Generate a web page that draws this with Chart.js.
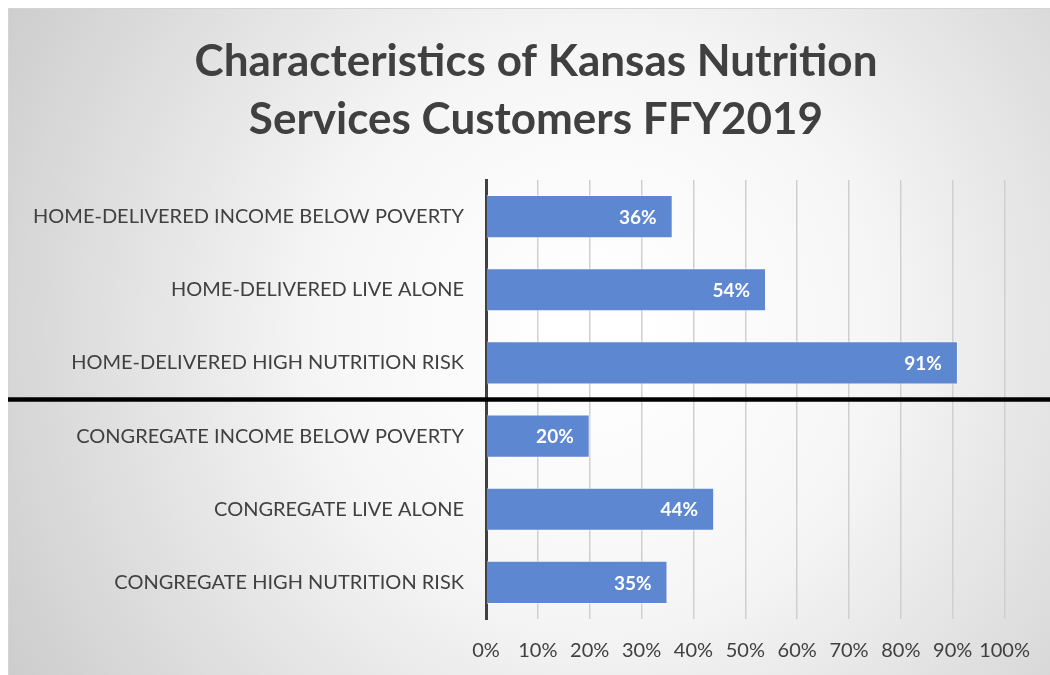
<!DOCTYPE html>
<html>
<head>
<meta charset="utf-8">
<script src="https://cdn.jsdelivr.net/npm/chart.js@4"></script>
<style>
  html, body { margin: 0; padding: 0; background: #fff; }
  #wrap { width: 1050px; height: 675px; position: relative; }
</style>
</head>
<body>
<div id="wrap"><canvas id="chart" width="1050" height="675"></canvas></div>
<script>
// Chart data
const categories = [
    'HOME-DELIVERED INCOME BELOW POVERTY',
    'HOME-DELIVERED LIVE ALONE',
    'HOME-DELIVERED HIGH NUTRITION RISK',
    'CONGREGATE INCOME BELOW POVERTY',
    'CONGREGATE LIVE ALONE',
    'CONGREGATE HIGH NUTRITION RISK'
];
const percentValues = [36, 54, 91, 20, 44, 35];
const titleLines = ['Characteristics of Kansas Nutrition', 'Services Customers FFY2019'];
const tickStep = 10;
const tickMax = 100;

const fontFamily = 'Lato, "Open Sans", sans-serif';

// Background: light radial gradient with thin frame
const backgroundPlugin = {
    id: 'bgGradient',
    beforeDraw(chart) {
        const c = chart.ctx;
        const w = chart.width, h = chart.height;
        c.save();
        const g = c.createRadialGradient(600, 330, 40, 600, 330, 720);
        g.addColorStop(0, '#ffffff');
        g.addColorStop(0.35, '#f6f6f6');
        g.addColorStop(1, '#c9c9c9');
        c.fillStyle = g;
        c.fillRect(8, 8, w - 8, h - 8);
        c.strokeStyle = '#d4d4d4';
        c.lineWidth = 1;
        c.strokeRect(8.5, 8.5, w, h);
        c.restore();
    }
};

// Two-line title, centred over the plot like the original
const titlePlugin = {
    id: 'chartTitle',
    afterDraw(chart) {
        const c = chart.ctx;
        c.save();
        c.font = 'bold 44px ' + fontFamily;
        c.fillStyle = '#404040';
        c.textAlign = 'center';
        c.textBaseline = 'middle';
        c.fillText(titleLines[0], 536, 62);
        c.fillText(titleLines[1], 536, 120);
        c.restore();
    }
};

// White value labels inside the end of each bar
const valueLabelPlugin = {
    id: 'valueLabels',
    afterDatasetsDraw(chart) {
        const c = chart.ctx;
        const meta = chart.getDatasetMeta(0);
        c.save();
        c.font = 'bold 19px ' + fontFamily;
        c.fillStyle = '#ffffff';
        c.textAlign = 'right';
        c.textBaseline = 'middle';
        meta.data.forEach((bar, i) => {
            c.fillText(percentValues[i] + '%', bar.x - 16, bar.y + 1);
        });
        c.restore();
    }
};

// Thick separator between home-delivered and congregate groups
const separatorPlugin = {
    id: 'separator',
    afterDraw(chart) {
        const y = chart.scales.y;
        const mid = (y.getPixelForValue(2) + y.getPixelForValue(3)) / 2;
        const c = chart.ctx;
        c.save();
        c.strokeStyle = '#000000';
        c.lineWidth = 4.5;
        c.beginPath();
        c.moveTo(8, mid);
        c.lineTo(chart.width, mid);
        c.stroke();
        c.restore();
    }
};

new Chart(document.getElementById('chart').getContext('2d'), {
    type: 'bar',
    data: {
        labels: categories,
        datasets: [{
            data: percentValues,
            backgroundColor: '#5d87d0',
            borderColor: 'rgba(255,255,255,0.55)',
            borderWidth: 1,
            borderSkipped: 'start',
            categoryPercentage: 1,
            barPercentage: 0.59
        }]
    },
    options: {
        indexAxis: 'y',
        responsive: false,
        animation: false,
        layout: {
            padding: { left: 0, right: 42, top: 180, bottom: 0 }
        },
        plugins: {
            legend: { display: false },
            tooltip: { enabled: false },
            title: { display: false }
        },
        scales: {
            x: {
                min: 0,
                max: tickMax,
                ticks: {
                    stepSize: tickStep,
                    color: '#404040',
                    font: { family: fontFamily, size: 20 },
                    padding: 20,
                    maxRotation: 0,
                    autoSkip: false,
                    callback: v => v + '%'
                },
                grid: { color: '#cfcfcf', lineWidth: 1.5, drawTicks: false },
                border: { display: false },
                afterFit(scale) { scale.height = 56; }
            },
            y: {
                ticks: {
                    color: '#404040',
                    font: { family: fontFamily, size: 20 },
                    padding: 22
                },
                grid: { display: false, drawTicks: false },
                border: { color: '#404040', width: 3 },
                afterFit(scale) { scale.width = 486; }
            }
        }
    },
    plugins: [backgroundPlugin, valueLabelPlugin, separatorPlugin, titlePlugin]
});
</script>
</body>
</html>
